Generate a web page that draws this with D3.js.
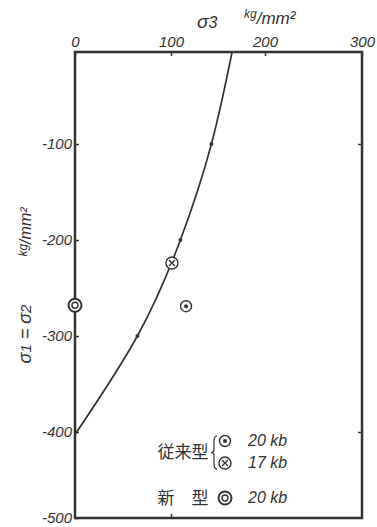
<!DOCTYPE html>
<html>
<head>
<meta charset="utf-8">
<script src="https://cdn.jsdelivr.net/npm/d3@7"></script>
<style>
  body { margin: 0; background: #fff; }
  svg { display: block; }
</style>
</head>
<body>
<script>
const width = 377;
const height = 527;
const ink = "#333";

// axis ticks (sigma3 on top, sigma1 = sigma2 on the left)
const xTicks = [0, 100, 200, 300];
const yTicks = [-100, -200, -300, -400, -500];

// fitted failure curve, kg/mm2
const curveSig3 = [165, 143, 110, 65, 0];
const curveSig1 = [0, -100, -200, -300, -403];
// small dots drawn on the curve
const dotSig3 = [143, 110, 65];
const dotSig1 = [-100, -200, -300];

// measured points
const pointType = ["dot", "cross", "double"];
const pointSig3 = [116, 101, 0];
const pointSig1 = [-269, -224, -268];

// legend
const legendGroup = ["従来型", "従来型", "新　型"];
const legendLabel = ["20 kb", "17 kb", "20 kb"];

const svg = d3.select("body").append("svg").attr("width", width).attr("height", height);
svg.append("rect").attr("width", "100%").attr("height", "100%").attr("fill", "#fff");

// hand drawn chart: tick spacing is not perfectly even, so polylinear scales
const x = d3.scaleLinear().domain([0, 100, 200, 300]).range([75, 171, 265, 362]);
const y = d3.scaleLinear().domain([0, -100, -200, -300, -400, -500]).range([52, 144, 240, 336, 432, 518]);

const numFont = "'Liberation Sans', Arial, sans-serif";

// top axis
const topAxis = svg.append("g")
    .attr("transform", `translate(0,${y(0)})`)
    .call(d3.axisTop(x).tickValues(xTicks).tickSizeInner(-4).tickSizeOuter(0).tickPadding(5));

// left axis
const leftAxis = svg.append("g")
    .attr("transform", `translate(${x(0)},0)`)
    .call(d3.axisLeft(y).tickValues(yTicks).tickSizeInner(-4).tickSizeOuter(0).tickPadding(3)
        .tickFormat(d => "-" + Math.abs(d)));

// right and bottom ticks only
const rightAxis = svg.append("g")
    .attr("transform", `translate(${x(300)},0)`)
    .call(d3.axisRight(y).tickValues([-100, -400]).tickSizeInner(-4).tickSizeOuter(0).tickFormat(""));
const bottomAxis = svg.append("g")
    .attr("transform", `translate(0,${y(-500)})`)
    .call(d3.axisBottom(x).tickValues([100]).tickSizeInner(-4).tickSizeOuter(0).tickFormat(""));

[topAxis, leftAxis, rightAxis, bottomAxis].forEach(function (a) {
    a.select(".domain").remove();
    a.selectAll("line").attr("stroke", ink).attr("stroke-width", 1.5);
    a.selectAll("text")
        .attr("fill", ink)
        .attr("font-family", numFont)
        .attr("font-style", "italic")
        .attr("font-size", 15);
});

// frame
svg.append("rect")
    .attr("x", x(0))
    .attr("y", y(0))
    .attr("width", x(300) - x(0))
    .attr("height", y(-500) - y(0))
    .attr("fill", "none")
    .attr("stroke", ink)
    .attr("stroke-width", 2.5);

// axis titles
const topTitle = svg.append("text")
    .attr("x", 197)
    .attr("y", 28)
    .attr("fill", ink)
    .attr("font-family", numFont)
    .attr("font-style", "italic")
    .attr("font-size", 19);
topTitle.append("tspan").text("σ");
topTitle.append("tspan").text("3").attr("font-size", 16);
topTitle.append("tspan").text("kg").attr("x", 244).attr("dy", -10).attr("font-size", 12);
topTitle.append("tspan").text("/mm²").attr("dy", 6).attr("font-size", 17);

const leftTitle = svg.append("g").attr("transform", "translate(31,0) rotate(-90)");
const t1 = leftTitle.append("text")
    .attr("x", -334)
    .attr("y", 0)
    .attr("text-anchor", "middle")
    .attr("fill", ink)
    .attr("font-family", numFont)
    .attr("font-style", "italic")
    .attr("font-size", 18);
t1.append("tspan").text("σ");
t1.append("tspan").text("1").attr("font-size", 15);
t1.append("tspan").text(" = σ");
t1.append("tspan").text("2").attr("font-size", 15);
const t2 = leftTitle.append("text")
    .attr("x", -232)
    .attr("y", 0)
    .attr("text-anchor", "middle")
    .attr("fill", ink)
    .attr("font-family", numFont)
    .attr("font-style", "italic")
    .attr("font-size", 16);
t2.append("tspan").text("kg").attr("font-size", 12).attr("dy", -4);
t2.append("tspan").text("/mm²").attr("dy", 4);

// curve
const curveData = curveSig3.map((v, i) => [v, curveSig1[i]]);
svg.append("path")
    .datum(curveData)
    .attr("fill", "none")
    .attr("stroke", ink)
    .attr("stroke-width", 1.7)
    .attr("d", d3.line().x(d => x(d[0])).y(d => y(d[1])).curve(d3.curveNatural));

svg.selectAll(".curve-dot")
    .data(dotSig3.map((v, i) => [v, dotSig1[i]]))
    .join("circle")
    .attr("class", "curve-dot")
    .attr("cx", d => x(d[0]))
    .attr("cy", d => y(d[1]))
    .attr("r", 2)
    .attr("fill", ink);

// markers
function drawMarker(g, type, cx, cy) {
    if (type === "dot") {
        g.append("circle").attr("cx", cx).attr("cy", cy).attr("r", 5.5)
            .attr("fill", "#fff").attr("stroke", ink).attr("stroke-width", 1.4);
        g.append("circle").attr("cx", cx).attr("cy", cy).attr("r", 2).attr("fill", ink);
    } else if (type === "cross") {
        g.append("circle").attr("cx", cx).attr("cy", cy).attr("r", 6)
            .attr("fill", "#fff").attr("stroke", ink).attr("stroke-width", 1.4);
        const k = 3;
        g.append("path")
            .attr("d", `M${cx - k},${cy - k}L${cx + k},${cy + k}M${cx - k},${cy + k}L${cx + k},${cy - k}`)
            .attr("stroke", ink).attr("stroke-width", 1.3);
    } else {
        g.append("circle").attr("cx", cx).attr("cy", cy).attr("r", 6.5)
            .attr("fill", "#fff").attr("stroke", ink).attr("stroke-width", 2);
        g.append("circle").attr("cx", cx).attr("cy", cy).attr("r", 3)
            .attr("fill", "none").attr("stroke", ink).attr("stroke-width", 1.4);
    }
}

pointType.forEach(function (type, i) {
    drawMarker(svg.append("g"), type, x(pointSig3[i]), y(pointSig1[i]));
});

// legend
const legendY = [441, 463, 498];
const cjkFont = "'Noto Sans CJK JP', sans-serif";
const legend = svg.append("g");

legend.append("text")
    .attr("x", 183)
    .attr("y", (legendY[0] + legendY[1]) / 2 + 6)
    .attr("text-anchor", "middle")
    .attr("fill", ink)
    .attr("font-family", cjkFont)
    .attr("font-size", 17)
    .text(legendGroup[0]);

// brace
const bx = 214, by0 = 436, by1 = 469, bm = (by0 + by1) / 2;
legend.append("path")
    .attr("d", `M${bx + 3},${by0} Q${bx},${by0} ${bx},${by0 + 5} L${bx},${bm - 3} Q${bx},${bm} ${bx - 3},${bm}` +
        ` Q${bx},${bm} ${bx},${bm + 3} L${bx},${by1 - 5} Q${bx},${by1} ${bx + 3},${by1}`)
    .attr("fill", "none")
    .attr("stroke", ink)
    .attr("stroke-width", 1.2);

legend.append("text")
    .attr("x", 183)
    .attr("y", legendY[2] + 6)
    .attr("text-anchor", "middle")
    .attr("fill", ink)
    .attr("font-family", cjkFont)
    .attr("font-size", 17)
    .text(legendGroup[2]);

pointType.forEach(function (type, i) {
    drawMarker(legend.append("g"), type, 225, legendY[i]);
    legend.append("text")
        .attr("x", 248)
        .attr("y", legendY[i] + 5)
        .attr("fill", ink)
        .attr("font-family", numFont)
        .attr("font-style", "italic")
        .attr("font-size", 16)
        .text(legendLabel[i]);
});
</script>
</body>
</html>
